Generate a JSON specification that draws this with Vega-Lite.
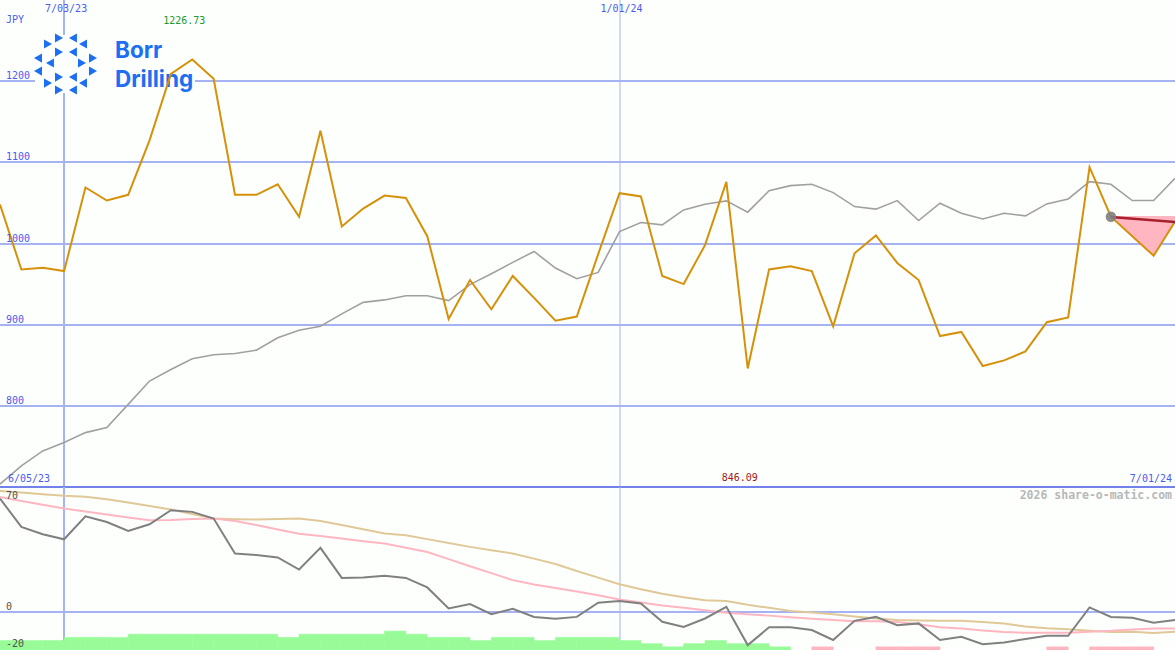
{
  "$schema": "https://vega.github.io/schema/vega-lite/v6.json",
  "background": "#fdfffd",
  "padding": {"left": -4, "top": 0, "right": 0, "bottom": 0},
  "spacing": 0,
  "bounds": "flush",
  "config": {"view": {"stroke": null}, "concat": {"spacing": 0}, "axis": {"translate": 0, "minExtent": 0, "maxExtent": 0, "titlePadding": 0, "offset": 0}},
  "datasets": {
    "weekly": [
      {"d":"2023-06-12T00:00","p":1048,"m":703.6,"mo":71.5,"pk":72.5,"tn":76.3},
      {"d":"2023-06-19T00:00","p":968,"m":726,"mo":53.6,"pk":70.0,"tn":75.3},
      {"d":"2023-06-26T00:00","p":970,"m":744.5,"mo":49.0,"pk":67.6,"tn":74.3},
      {"d":"2023-07-03T00:00","p":966,"m":754.8,"mo":45.8,"pk":65.2,"tn":73.3},
      {"d":"2023-07-10T00:00","p":1069,"m":767,"mo":60.3,"pk":63.3,"tn":72.6},
      {"d":"2023-07-17T00:00","p":1053,"m":773.2,"mo":56.7,"pk":61.4,"tn":71.0},
      {"d":"2023-07-24T00:00","p":1060,"m":801.8,"mo":51.1,"pk":59.5,"tn":69.0},
      {"d":"2023-07-31T00:00","p":1127,"m":830.5,"mo":55.3,"pk":57.8,"tn":66.8},
      {"d":"2023-08-07T00:00","p":1209,"m":844.8,"mo":64.1,"pk":58.0,"tn":64.6},
      {"d":"2023-08-14T00:00","p":1226.73,"m":858,"mo":63.1,"pk":58.6,"tn":61.8},
      {"d":"2023-08-21T00:00","p":1203,"m":862.9,"mo":58.9,"pk":58.9,"tn":58.9},
      {"d":"2023-08-28T00:00","p":1060,"m":864.5,"mo":36.8,"pk":57.4,"tn":58.5},
      {"d":"2023-09-04T00:00","p":1060,"m":868.6,"mo":35.8,"pk":54.8,"tn":58.3},
      {"d":"2023-09-11T00:00","p":1073,"m":883.8,"mo":34.3,"pk":52.0,"tn":58.6},
      {"d":"2023-09-18T00:00","p":1033,"m":893.1,"mo":26.7,"pk":49.3,"tn":58.9},
      {"d":"2023-09-25T00:00","p":1139,"m":898,"mo":40.4,"pk":47.8,"tn":57.4},
      {"d":"2023-10-02T00:00","p":1021,"m":913.3,"mo":21.4,"pk":46.3,"tn":54.8},
      {"d":"2023-10-09T00:00","p":1043,"m":927.5,"mo":21.7,"pk":44.6,"tn":52.1},
      {"d":"2023-10-16T00:00","p":1059,"m":930.5,"mo":22.7,"pk":43.1,"tn":49.4},
      {"d":"2023-10-23T00:00","p":1056,"m":935.7,"mo":21.4,"pk":40.5,"tn":48.4},
      {"d":"2023-10-30T00:00","p":1009,"m":935.7,"mo":15.4,"pk":37.8,"tn":45.9},
      {"d":"2023-11-06T00:00","p":907,"m":929.6,"mo":2.1,"pk":33.3,"tn":43.5},
      {"d":"2023-11-13T00:00","p":955,"m":949.3,"mo":4.9,"pk":28.8,"tn":41.0},
      {"d":"2023-11-20T00:00","p":919,"m":962.8,"mo":-1.5,"pk":24.4,"tn":38.9},
      {"d":"2023-11-27T00:00","p":960,"m":976.7,"mo":1.9,"pk":20.0,"tn":36.8},
      {"d":"2023-12-04T00:00","p":933,"m":990.2,"mo":-3.2,"pk":17.3,"tn":33.6},
      {"d":"2023-12-11T00:00","p":905,"m":969.8,"mo":-4.4,"pk":15.1,"tn":30.2},
      {"d":"2023-12-18T00:00","p":910,"m":956.6,"mo":-3.2,"pk":12.8,"tn":25.8},
      {"d":"2023-12-25T00:00","p":987,"m":964.4,"mo":5.8,"pk":10.5,"tn":21.6},
      {"d":"2024-01-01T00:00","p":1062,"m":1014.7,"mo":6.9,"pk":7.8,"tn":17.4},
      {"d":"2024-01-08T00:00","p":1058,"m":1025.8,"mo":5.3,"pk":5.9,"tn":14.3},
      {"d":"2024-01-15T00:00","p":960,"m":1023,"mo":-6.3,"pk":4.0,"tn":11.4},
      {"d":"2024-01-22T00:00","p":950,"m":1041.4,"mo":-9.5,"pk":2.5,"tn":9.2},
      {"d":"2024-01-29T00:00","p":998,"m":1048.4,"mo":-4.2,"pk":1.0,"tn":7.3},
      {"d":"2024-02-05T00:00","p":1076,"m":1052.5,"mo":3.2,"pk":-0.6,"tn":6.8},
      {"d":"2024-02-12T00:00","p":846.09,"m":1038.6,"mo":-21.0,"pk":-1.5,"tn":4.4},
      {"d":"2024-02-19T00:00","p":968,"m":1065.1,"mo":-9.8,"pk":-2.4,"tn":2.5},
      {"d":"2024-02-26T00:00","p":972,"m":1071.3,"mo":-9.8,"pk":-3.4,"tn":0.5},
      {"d":"2024-03-04T00:00","p":966,"m":1073,"mo":-11.5,"pk":-4.4,"tn":-0.4},
      {"d":"2024-03-11T00:00","p":898,"m":1062.7,"mo":-17.8,"pk":-5.2,"tn":-1.6},
      {"d":"2024-03-18T00:00","p":988,"m":1045.5,"mo":-5.7,"pk":-5.9,"tn":-2.9},
      {"d":"2024-03-25T00:00","p":1010,"m":1042.3,"mo":-3.2,"pk":-6.0,"tn":-4.2},
      {"d":"2024-04-01T00:00","p":976,"m":1052.9,"mo":-8.4,"pk":-6.5,"tn":-5.2},
      {"d":"2024-04-08T00:00","p":955,"m":1028.3,"mo":-7.3,"pk":-7.8,"tn":-5.5},
      {"d":"2024-04-15T00:00","p":886,"m":1049.6,"mo":-17.8,"pk":-9.8,"tn":-5.7},
      {"d":"2024-04-22T00:00","p":891,"m":1037.3,"mo":-15.8,"pk":-10.6,"tn":-5.7},
      {"d":"2024-04-29T00:00","p":849,"m":1030.3,"mo":-20.4,"pk":-11.8,"tn":-6.5},
      {"d":"2024-05-06T00:00","p":856,"m":1037.3,"mo":-19.3,"pk":-12.8,"tn":-7.4},
      {"d":"2024-05-13T00:00","p":867,"m":1034,"mo":-17.2,"pk":-13.2,"tn":-9.3},
      {"d":"2024-05-20T00:00","p":903,"m":1048.8,"mo":-15.1,"pk":-13.2,"tn":-10.4},
      {"d":"2024-05-27T00:00","p":909,"m":1054.9,"mo":-15.1,"pk":-13.2,"tn":-11.0},
      {"d":"2024-06-03T00:00","p":1094,"m":1076.2,"mo":2.8,"pk":-12.6,"tn":-12.0},
      {"d":"2024-06-10T00:00","p":1033,"m":1073,"mo":-3.2,"pk":-12.0,"tn":-12.8},
      {"d":"2024-06-17T00:00","p":1009,"m":1052.9,"mo":-3.8,"pk":-11.1,"tn":-12.6},
      {"d":"2024-06-24T00:00","p":985,"m":1052.9,"mo":-6.9,"pk":-10.5,"tn":-13.4},
      {"d":"2024-07-01T00:00","p":1027,"m":1080.3,"mo":-5.2,"pk":-10.5,"tn":-12.6}
    ],
    "bars": [
      {"d":"2023-06-12T00:00","e":"2023-06-19T00:00","lvl":3,"side":"up"},
      {"d":"2023-06-19T00:00","e":"2023-06-26T00:00","lvl":3,"side":"up"},
      {"d":"2023-06-26T00:00","e":"2023-07-03T00:00","lvl":3,"side":"up"},
      {"d":"2023-07-03T00:00","e":"2023-07-10T00:00","lvl":4,"side":"up"},
      {"d":"2023-07-10T00:00","e":"2023-07-17T00:00","lvl":4,"side":"up"},
      {"d":"2023-07-17T00:00","e":"2023-07-24T00:00","lvl":4,"side":"up"},
      {"d":"2023-07-24T00:00","e":"2023-07-31T00:00","lvl":5,"side":"up"},
      {"d":"2023-07-31T00:00","e":"2023-08-07T00:00","lvl":5,"side":"up"},
      {"d":"2023-08-07T00:00","e":"2023-08-14T00:00","lvl":5,"side":"up"},
      {"d":"2023-08-14T00:00","e":"2023-08-21T00:00","lvl":5,"side":"up"},
      {"d":"2023-08-21T00:00","e":"2023-08-28T00:00","lvl":5,"side":"up"},
      {"d":"2023-08-28T00:00","e":"2023-09-04T00:00","lvl":5,"side":"up"},
      {"d":"2023-09-04T00:00","e":"2023-09-11T00:00","lvl":5,"side":"up"},
      {"d":"2023-09-11T00:00","e":"2023-09-18T00:00","lvl":4,"side":"up"},
      {"d":"2023-09-18T00:00","e":"2023-09-25T00:00","lvl":5,"side":"up"},
      {"d":"2023-09-25T00:00","e":"2023-10-02T00:00","lvl":5,"side":"up"},
      {"d":"2023-10-02T00:00","e":"2023-10-09T00:00","lvl":5,"side":"up"},
      {"d":"2023-10-09T00:00","e":"2023-10-16T00:00","lvl":5,"side":"up"},
      {"d":"2023-10-16T00:00","e":"2023-10-23T00:00","lvl":6,"side":"up"},
      {"d":"2023-10-23T00:00","e":"2023-10-30T00:00","lvl":5,"side":"up"},
      {"d":"2023-10-30T00:00","e":"2023-11-06T00:00","lvl":4,"side":"up"},
      {"d":"2023-11-06T00:00","e":"2023-11-13T00:00","lvl":4,"side":"up"},
      {"d":"2023-11-13T00:00","e":"2023-11-20T00:00","lvl":3,"side":"up"},
      {"d":"2023-11-20T00:00","e":"2023-11-27T00:00","lvl":4,"side":"up"},
      {"d":"2023-11-27T00:00","e":"2023-12-04T00:00","lvl":4,"side":"up"},
      {"d":"2023-12-04T00:00","e":"2023-12-11T00:00","lvl":3,"side":"up"},
      {"d":"2023-12-11T00:00","e":"2023-12-18T00:00","lvl":4,"side":"up"},
      {"d":"2023-12-18T00:00","e":"2023-12-25T00:00","lvl":4,"side":"up"},
      {"d":"2023-12-25T00:00","e":"2024-01-01T00:00","lvl":4,"side":"up"},
      {"d":"2024-01-01T00:00","e":"2024-01-08T00:00","lvl":3,"side":"up"},
      {"d":"2024-01-08T00:00","e":"2024-01-15T00:00","lvl":2,"side":"up"},
      {"d":"2024-01-15T00:00","e":"2024-01-22T00:00","lvl":1,"side":"up"},
      {"d":"2024-01-22T00:00","e":"2024-01-29T00:00","lvl":2,"side":"up"},
      {"d":"2024-01-29T00:00","e":"2024-02-05T00:00","lvl":3,"side":"up"},
      {"d":"2024-02-05T00:00","e":"2024-02-12T00:00","lvl":2,"side":"up"},
      {"d":"2024-02-12T00:00","e":"2024-02-19T00:00","lvl":2,"side":"up"},
      {"d":"2024-02-19T00:00","e":"2024-02-26T00:00","lvl":1,"side":"up"},
      {"d":"2024-03-04T00:00","e":"2024-03-11T00:00","lvl":1,"side":"down"},
      {"d":"2024-03-25T00:00","e":"2024-04-01T00:00","lvl":1,"side":"down"},
      {"d":"2024-04-01T00:00","e":"2024-04-08T00:00","lvl":1,"side":"down"},
      {"d":"2024-04-08T00:00","e":"2024-04-15T00:00","lvl":1,"side":"down"},
      {"d":"2024-05-20T00:00","e":"2024-05-27T00:00","lvl":1,"side":"down"},
      {"d":"2024-06-03T00:00","e":"2024-06-10T00:00","lvl":1,"side":"down"},
      {"d":"2024-06-10T00:00","e":"2024-06-17T00:00","lvl":1,"side":"down"},
      {"d":"2024-06-17T00:00","e":"2024-06-24T00:00","lvl":1,"side":"down"}
    ],
    "forecast": [
      {"d":"2024-06-10T00:00","p":1033},
      {"d":"2024-06-17T00:00","p":1009},
      {"d":"2024-06-24T00:00","p":985},
      {"d":"2024-07-01T00:00","p":1027}
    ],
    "trend": [
      {"d":"2024-06-10T00:00","t":1032.5},
      {"d":"2024-07-01T00:00","t":1026.5}
    ],
    "marks": [
      {"d":"2023-07-03T00:00"},
      {"d":"2024-01-01T00:00"}
    ],
    "ticks": [{"v":800},{"v":900},{"v":1000},{"v":1100},{"v":1200}],
    "lowticks": [{"v":70},{"v":0}],
    "logo": [
      {"d":"2023-06-27T17:30","v":1245.8,"dir":"r"},
      {"d":"2023-07-01T08:00","v":1253.2,"dir":"r"},
      {"d":"2023-07-05T21:30","v":1253.2,"dir":"l"},
      {"d":"2023-07-09T05:00","v":1245.8,"dir":"l"},
      {"d":"2023-07-01T08:00","v":1235.9,"dir":"r"},
      {"d":"2023-07-05T21:30","v":1235.9,"dir":"l"},
      {"d":"2023-06-24T10:50","v":1228.5,"dir":"l"},
      {"d":"2023-07-12T11:15","v":1228.5,"dir":"r"},
      {"d":"2023-06-28T09:00","v":1222.4,"dir":"l"},
      {"d":"2023-07-08T21:00","v":1222.4,"dir":"r"},
      {"d":"2023-06-24T10:50","v":1212.5,"dir":"l"},
      {"d":"2023-07-12T11:15","v":1212.5,"dir":"r"},
      {"d":"2023-07-01T08:00","v":1205.1,"dir":"r"},
      {"d":"2023-07-05T21:30","v":1205.1,"dir":"l"},
      {"d":"2023-06-27T17:30","v":1197.7,"dir":"r"},
      {"d":"2023-07-09T05:00","v":1197.7,"dir":"l"},
      {"d":"2023-07-01T08:00","v":1189.1,"dir":"r"},
      {"d":"2023-07-05T21:30","v":1189.1,"dir":"l"}
    ]
  },
  "vconcat": [
    {
      "width": 1175,
      "height": 487,
      "layer": [
        {
          "data": {"values": [{}]},
          "mark": {"type": "rect", "fill": "#fdfffd"},
          "encoding": {
            "x": {"datum": {"year": 2023, "month": 6, "date": 23, "hours": 11}, "type": "temporal", "title": null,
              "scale": {"domain": [{"year": 2023, "month": 6, "date": 12}, {"year": 2024, "month": 7, "date": 1}]},
              "axis": {"orient": "top", "values": [{"year": 2023, "month": 7, "date": 3}, {"year": 2024, "month": 1, "date": 1}],
                "domain": false, "ticks": false, "labels": false, "grid": true, "gridColor": "#a5b3f2",
                "gridWidth": {"condition": {"test": "month(datum.value) == 6", "value": 2}, "value": 1}, "title": null}},
            "x2": {"datum": {"year": 2023, "month": 8, "date": 14, "hours": 21}},
            "y": {"datum": 1185.4, "type": "quantitative", "title": null,
              "scale": {"domain": [700, 1300], "nice": false, "zero": false},
              "axis": {"orient": "left", "values": [800, 900, 1000, 1100, 1200], "domain": false, "ticks": false, "labels": false,
                "grid": true, "gridColor": "#a5b3f2", "gridWidth": 2, "title": null}},
            "y2": {"datum": 1256.9}
          }
        },
        {
          "data": {"name": "logo"},
          "mark": {"type": "point", "filled": true, "size": 85, "opacity": 1},
          "encoding": {
            "x": {"field": "d", "type": "temporal", "title": null},
            "y": {"field": "v", "type": "quantitative", "title": null},
            "shape": {"field": "dir", "type": "nominal", "scale": {"domain": ["r", "l"], "range": ["triangle-right", "triangle-left"]}, "legend": null},
            "color": {"value": "#1c6ef2"}
          }
        },
        {
          "data": {"values": [{}]},
          "mark": {"type": "text", "text": "Borr", "font": "Inter", "fontWeight": "bold", "fontSize": 22.5, "align": "left", "baseline": "alphabetic", "color": "#1c6ef2"},
          "encoding": {"x": {"datum": {"year": 2023, "month": 7, "date": 19, "hours": 16, "minutes": 20}, "type": "temporal"}, "y": {"datum": 1228.2, "type": "quantitative"}}
        },
        {
          "data": {"values": [{}]},
          "mark": {"type": "text", "text": "Drilling", "font": "Inter", "fontWeight": "bold", "fontSize": 22.5, "align": "left", "baseline": "alphabetic", "color": "#1c6ef2"},
          "encoding": {"x": {"datum": {"year": 2023, "month": 7, "date": 19, "hours": 16, "minutes": 20}, "type": "temporal"}, "y": {"datum": 1192.4, "type": "quantitative"}}
        },
        {
          "data": {"name": "forecast"},
          "mark": {"type": "area", "color": "#ffb6c1", "opacity": 1},
          "encoding": {
            "x": {"field": "d", "type": "temporal", "title": null},
            "y": {"field": "p", "type": "quantitative", "title": null},
            "y2": {"datum": 1034}
          }
        },
        {
          "data": {"name": "weekly"},
          "mark": {"type": "line", "color": "#a0a0a0", "strokeWidth": 1.6},
          "encoding": {
            "x": {"field": "d", "type": "temporal", "title": null},
            "y": {"field": "m", "type": "quantitative", "title": null}
          }
        },
        {
          "data": {"name": "weekly"},
          "mark": {"type": "line", "color": "#d5910a", "strokeWidth": 2},
          "encoding": {
            "x": {"field": "d", "type": "temporal", "title": null},
            "y": {"field": "p", "type": "quantitative", "title": null}
          }
        },
        {
          "data": {"name": "trend"},
          "mark": {"type": "line", "color": "#a8202c", "strokeWidth": 2.5},
          "encoding": {
            "x": {"field": "d", "type": "temporal", "title": null},
            "y": {"field": "t", "type": "quantitative", "title": null}
          }
        },
        {
          "data": {"name": "trend"},
          "transform": [{"filter": "month(datum.d) == 5"}],
          "mark": {"type": "point", "filled": true, "size": 110, "color": "#808080", "opacity": 0.9},
          "encoding": {
            "x": {"field": "d", "type": "temporal", "title": null},
            "y": {"datum": 1033, "type": "quantitative"}
          }
        },
        {
          "data": {"values": [{}]},
          "mark": {"type": "rule", "color": "#7282ea", "strokeWidth": 2},
          "encoding": {"y": {"datum": 700, "type": "quantitative"}}
        },
        {
          "data": {"name": "ticks"},
          "mark": {"type": "text", "font": "DejaVu Sans Mono", "fontSize": 10, "align": "left", "baseline": "bottom", "dx": 6, "color": "#4a5cf0"},
          "encoding": {
            "x": {"datum": {"year": 2023, "month": 6, "date": 12}, "type": "temporal"},
            "y": {"field": "v", "type": "quantitative", "title": null},
            "text": {"field": "v", "type": "quantitative", "format": "d"}
          }
        },
        {
          "data": {"name": "marks"},
          "mark": {"type": "text", "font": "DejaVu Sans Mono", "fontSize": 10, "align": "center", "baseline": "middle", "dx": 2, "color": "#4a5cf0"},
          "encoding": {
            "x": {"field": "d", "type": "temporal", "title": null},
            "y": {"datum": 1289, "type": "quantitative"},
            "text": {"field": "d", "type": "temporal", "format": "%-m/%d/%y"}
          }
        },
        {
          "data": {"values": [{}]},
          "mark": {"type": "text", "text": "JPY", "font": "DejaVu Sans Mono", "fontSize": 10, "align": "left", "baseline": "middle", "dx": 6, "color": "#4a5cf0"},
          "encoding": {"x": {"datum": {"year": 2023, "month": 6, "date": 12}, "type": "temporal"}, "y": {"datum": 1275.4, "type": "quantitative"}}
        },
        {
          "data": {"values": [{}]},
          "mark": {"type": "text", "text": "1226.73", "font": "DejaVu Sans Mono", "fontSize": 10, "align": "center", "baseline": "middle", "dx": -8, "color": "#22992a"},
          "encoding": {"x": {"datum": {"year": 2023, "month": 8, "date": 14}, "type": "temporal"}, "y": {"datum": 1274.1, "type": "quantitative"}}
        },
        {
          "data": {"values": [{}]},
          "mark": {"type": "text", "text": "846.09", "font": "DejaVu Sans Mono", "fontSize": 10, "align": "center", "baseline": "middle", "dx": -8, "color": "#a01818"},
          "encoding": {"x": {"datum": {"year": 2024, "month": 2, "date": 12}, "type": "temporal"}, "y": {"datum": 711.1, "type": "quantitative"}}
        },
        {
          "data": {"values": [{}]},
          "mark": {"type": "text", "text": "6/05/23", "font": "DejaVu Sans Mono", "fontSize": 10, "align": "left", "baseline": "middle", "dx": 8, "color": "#4a5cf0"},
          "encoding": {"x": {"datum": {"year": 2023, "month": 6, "date": 12}, "type": "temporal"}, "y": {"datum": 709.5, "type": "quantitative"}}
        },
        {
          "data": {"values": [{}]},
          "mark": {"type": "text", "text": "7/01/24", "font": "DejaVu Sans Mono", "fontSize": 10, "align": "right", "baseline": "middle", "dx": -3, "color": "#4a5cf0"},
          "encoding": {"x": {"datum": {"year": 2024, "month": 7, "date": 1}, "type": "temporal"}, "y": {"datum": 709.5, "type": "quantitative"}}
        }
      ]
    },
    {
      "width": 1175,
      "height": 163,
      "layer": [
        {
          "data": {"name": "bars"},
          "mark": {"type": "rect", "strokeWidth": 0.6},
          "encoding": {
            "x": {"field": "d", "type": "temporal", "title": null,
              "scale": {"domain": [{"year": 2023, "month": 6, "date": 12}, {"year": 2024, "month": 7, "date": 1}]},
              "axis": {"orient": "bottom", "values": [{"year": 2023, "month": 7, "date": 3}, {"year": 2024, "month": 1, "date": 1}],
                "domain": false, "ticks": false, "labels": false, "grid": true, "gridColor": "#a5b3f2",
                "gridWidth": {"condition": {"test": "month(datum.value) == 6", "value": 2}, "value": 1}, "title": null}},
            "x2": {"field": "e"},
            "y": {"field": "lvl", "type": "quantitative", "title": null, "scale": {"domain": [0, 51.75], "nice": false}, "axis": null},
            "y2": {"datum": 0},
            "color": {"field": "side", "type": "nominal", "scale": {"domain": ["up", "down"], "range": ["#98fb98", "#ffb6c1"]}, "legend": null},
            "stroke": {"field": "side", "type": "nominal", "scale": {"domain": ["up", "down"], "range": ["#98fb98", "#ffb6c1"]}, "legend": null}
          }
        },
        {
          "data": {"name": "weekly"},
          "layer": [
            {
              "mark": {"type": "line", "color": "#e0c898", "strokeWidth": 2},
              "encoding": {
                "x": {"field": "d", "type": "temporal", "title": null},
                "y": {"field": "tn", "type": "quantitative", "title": null,
                  "scale": {"domain": [-24.1, 78.8], "nice": false, "zero": false},
                  "axis": {"orient": "left", "values": [0], "domain": false, "ticks": false, "labels": false,
                    "grid": true, "gridColor": "#a5b3f2", "gridWidth": 2, "title": null}}
              }
            },
            {
              "mark": {"type": "line", "color": "#ffb6c1", "strokeWidth": 2},
              "encoding": {
                "x": {"field": "d", "type": "temporal", "title": null},
                "y": {"field": "pk", "type": "quantitative", "title": null}
              }
            },
            {
              "mark": {"type": "line", "color": "#808080", "strokeWidth": 2},
              "encoding": {
                "x": {"field": "d", "type": "temporal", "title": null},
                "y": {"field": "mo", "type": "quantitative", "title": null}
              }
            },
            {
              "data": {"name": "lowticks"},
              "mark": {"type": "text", "font": "DejaVu Sans Mono", "fontSize": 10, "align": "left", "baseline": "bottom", "dx": 6, "color": "#505050"},
              "encoding": {
                "x": {"datum": {"year": 2023, "month": 6, "date": 12}, "type": "temporal"},
                "y": {"field": "v", "type": "quantitative", "title": null},
                "text": {"field": "v", "type": "quantitative", "format": "d"}
              }
            },
            {
              "data": {"values": [{}]},
              "mark": {"type": "text", "text": "-20", "font": "DejaVu Sans Mono", "fontSize": 10, "align": "left", "baseline": "bottom", "dx": 6, "dy": 5, "color": "#505050"},
              "encoding": {"x": {"datum": {"year": 2023, "month": 6, "date": 12}, "type": "temporal"}, "y": {"datum": -20, "type": "quantitative"}}
            },
            {
              "data": {"values": [{}]},
              "mark": {"type": "text", "text": "2026 share-o-matic.com", "font": "DejaVu Sans Mono", "fontWeight": "bold", "fontSize": 11.5, "align": "right", "baseline": "middle", "dx": -3, "color": "#b8b8b8"},
              "encoding": {"x": {"datum": {"year": 2024, "month": 7, "date": 1}, "type": "temporal"}, "y": {"datum": 73, "type": "quantitative"}}
            }
          ]
        }
      ],
      "resolve": {"scale": {"y": "independent"}}
    }
  ]
}
